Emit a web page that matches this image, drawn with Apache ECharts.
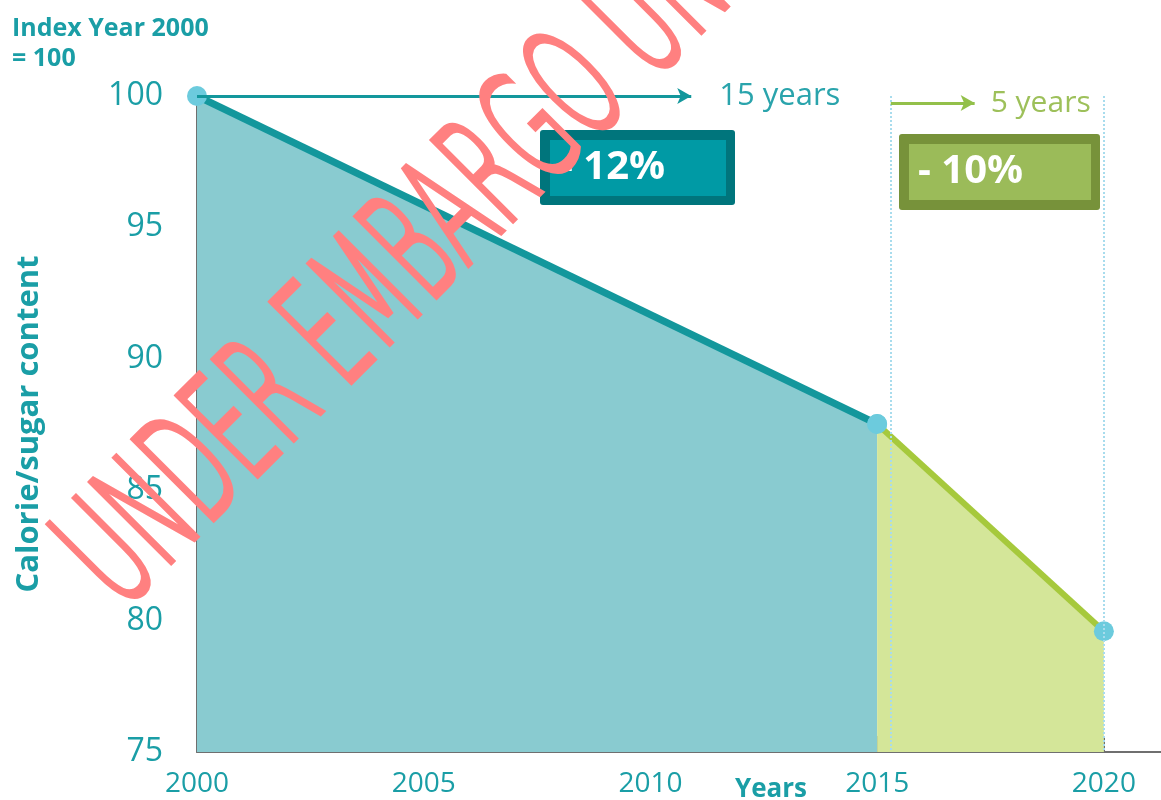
<!DOCTYPE html>
<html>
<head>
<meta charset="utf-8">
<script src="https://cdn.jsdelivr.net/npm/echarts@6/dist/echarts.min.js"></script>
<style>
  html, body { margin: 0; padding: 0; background: #fff; }
  #chart { width: 1161px; height: 800px; }
</style>
</head>
<body>
<div id="chart"></div>
<script>
// ===== Calorie / sugar index chart =====
var years = [2000, 2015, 2020];
var indexValues = [100, 87.5, 79.6];
var yMin = 75, yMax = 100, yStep = 5;
var spanLabels = ['15 years', '5 years'];
var changeLabels = ['- 12%', '- 10%'];

var teal = '#1a9ea6';
var tealLine = '#13979c';
var tealArea = '#89cbd0';
var green = '#a6c93c';
var greenArea = '#d4e699';
var dot = '#6ccbdd';
var axisGrey = '#6f6f6f';
var font = 'Open Sans';

var chart = echarts.init(document.getElementById('chart'));

var phase1 = [[years[0], indexValues[0]], [years[1], indexValues[1]]];
var phase2 = [[years[1], indexValues[1]], [years[2], indexValues[2]]];
var dotted = { color: '#a8dced', width: 2, type: 'dotted' };

chart.setOption({
  animation: false,
  title: {
    text: 'Index Year 2000\n= 100',
    left: 12, top: 14, padding: 0,
    textStyle: { color: teal, fontFamily: font, fontWeight: 'bold', fontSize: 25, lineHeight: 30 }
  },
  grid: { left: 197, right: 0, top: 96, bottom: 48, outerBoundsMode: 'none', containLabel: false },
  xAxis: {
    type: 'value',
    min: 2000, max: 2021.26, interval: 5,
    name: 'Years',
    nameLocation: 'middle',
    nameGap: 25,
    nameMoveOverlap: false,
    nameTextStyle: { color: teal, fontFamily: font, fontWeight: 'bold', fontSize: 26, padding: [0, 0, 0, 184] },
    axisLine: { lineStyle: { color: axisGrey, width: 2 } },
    axisTick: { inside: true, length: 16, lineStyle: { color: axisGrey, width: 2 } },
    axisLabel: { color: teal, fontFamily: font, fontSize: 28, margin: 18, showMaxLabel: false,
      formatter: function(v) { return String(v); } },
    splitLine: { show: false }
  },
  yAxis: {
    type: 'value',
    min: yMin, max: yMax, interval: yStep,
    name: 'Calorie/sugar content',
    nameLocation: 'middle',
    nameRotate: 90,
    nameGap: 152,
    nameMoveOverlap: false,
    nameTextStyle: { color: teal, fontFamily: font, fontWeight: 'bold', fontSize: 31 },
    axisLine: { lineStyle: { color: axisGrey, width: 2 } },
    axisTick: { inside: true, length: 18, lineStyle: { color: axisGrey, width: 2 } },
    axisLabel: { color: teal, fontFamily: font, fontSize: 32, margin: 34 },
    splitLine: { show: false }
  },
  series: [{
    type: 'line',
    data: phase1,
    clip: false,
    symbol: 'circle',
    symbolSize: 20,
    itemStyle: { color: dot },
    lineStyle: { color: tealLine, width: 7 },
    areaStyle: { color: tealArea, opacity: 1, origin: 'start' },
    z: 2,
    markLine: {
      silent: true,
      symbol: ['none', 'arrow'],
      symbolSize: [12, 14],
      lineStyle: { color: tealLine, width: 3, type: 'solid' },
      label: { show: true, position: 'end', distance: 28, color: '#2aa4ac', fontFamily: font, fontSize: 31,
        formatter: spanLabels[0] },
      data: [[{ coord: [2000, 100] }, { coord: [2010.9, 100] }]]
    }
  }, {
    type: 'line',
    data: phase2,
    clip: false,
    symbol: 'circle',
    symbolSize: 20,
    itemStyle: { color: dot },
    lineStyle: { color: green, width: 6 },
    areaStyle: { color: greenArea, opacity: 1, origin: 'start' },
    z: 3,
    markLine: {
      silent: true,
      symbol: ['none', 'none'],
      data: [
        [{ coord: [2015.3, 100], lineStyle: dotted, label: { show: false } }, { coord: [2015.3, 75] }],
        [{ coord: [2020, 100], lineStyle: dotted, label: { show: false } }, { coord: [2020, 75] }],
        [{ coord: [2015.3, 99.73], lineStyle: { color: '#93c04a', width: 3, type: 'solid' },
           label: { show: true, position: 'end', distance: 16, color: '#9dc05a', fontFamily: font, fontSize: 30,
             formatter: spanLabels[1] } },
         { coord: [2017.15, 99.73], symbol: 'arrow', symbolSize: [12, 14] }]
      ]
    }
  }],
  graphic: [
    // -12% box
    { type: 'rect', shape: { x: 540, y: 130, width: 195, height: 75, r: 3 }, style: { fill: '#00757c' }, z: 10 },
    { type: 'rect', shape: { x: 550, y: 140, width: 176, height: 56 }, style: { fill: '#009aa5' }, z: 11 },
    { type: 'text', x: 560, y: 168, z: 12,
      style: { text: changeLabels[0], fill: '#fff', font: 'bold 40px "Open Sans"', textVerticalAlign: 'middle' } },
    // -10% box
    { type: 'rect', shape: { x: 899, y: 134, width: 201, height: 76, r: 3 }, style: { fill: '#77923a' }, z: 10 },
    { type: 'rect', shape: { x: 909, y: 144, width: 182, height: 56 }, style: { fill: '#9bbb59' }, z: 11 },
    { type: 'text', x: 918, y: 172, z: 12,
      style: { text: changeLabels[1], fill: '#fff', font: 'bold 40px "Open Sans"', textVerticalAlign: 'middle' } },
    // watermark
    { type: 'text', x: 93, y: 583, rotation: Math.PI / 4, scaleX: 0.52, z: 100,
      style: { text: 'UNDER EMBARGO UNTIL', fill: '#ff8080', stroke: '#ff8080', lineWidth: 6,
        font: '200 155px "DejaVu Sans"', textVerticalAlign: 'middle' } }
  ]
});
</script>
</body>
</html>
